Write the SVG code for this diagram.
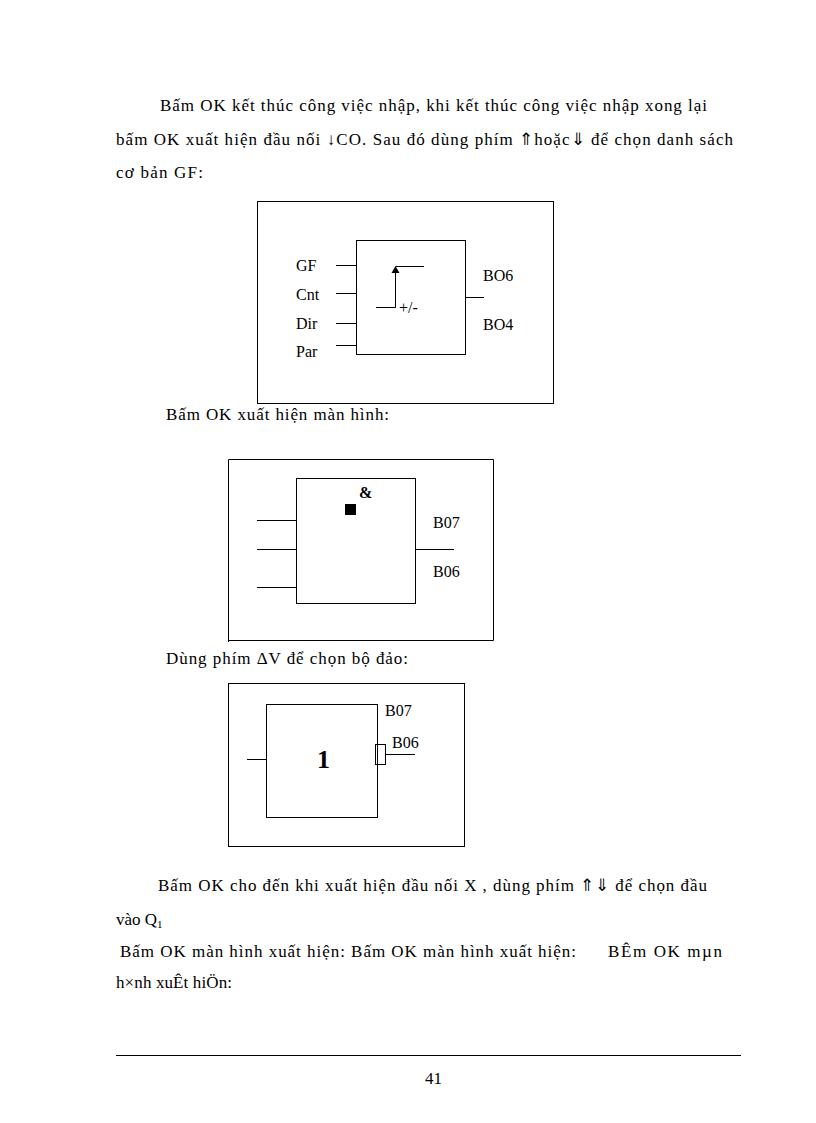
<svg xmlns="http://www.w3.org/2000/svg" width="816" height="1123" viewBox="0 0 816 1123">
<style>
.t{font-family:"Liberation Serif",serif;font-size:17px;fill:#000}
.s{font-family:"Liberation Serif",serif;font-size:16px;fill:#000}
.b{fill:none;stroke:#000;stroke-width:1}
</style>
<rect width="816" height="1123" fill="#fff"/>
<text class="t" x="160" y="111" textLength="547" lengthAdjust="spacing">Bấm OK kết thúc công việc nhập, khi kết thúc công việc nhập xong lại</text>
<text class="t" x="116" y="145" textLength="617" lengthAdjust="spacing">bấm OK xuất hiện đầu nối ↓CO. Sau đó dùng phím ⇑hoặc⇓ để chọn danh sách</text>
<text class="t" x="116" y="178" textLength="87" lengthAdjust="spacing">cơ bản GF:</text>
<g id="fig1">
<rect class="b" x="257.5" y="201.5" width="296" height="202"/>
<rect class="b" x="356.5" y="240.5" width="109" height="114"/>
<path class="b" d="M336 265.5H356M336 293.5H356M336 323.5H356M336 345.5H356M465 297.5H484M376 307.5H395.5V272M395.5 266.5H424"/>
<path d="M395.5 266L391.5 273H399.5Z"/>
<text class="s" x="296" y="271">GF</text>
<text class="s" x="296" y="300">Cnt</text>
<text class="s" x="296" y="329">Dir</text>
<text class="s" x="296" y="357">Par</text>
<text class="s" x="483" y="281">BO6</text>
<text class="s" x="483" y="330">BO4</text>
<text class="s" x="399" y="313">+/-</text>
</g>
<text class="t" x="166" y="420" textLength="223" lengthAdjust="spacing">Bấm OK xuất hiện màn hình:</text>
<g id="fig2">
<path class="b" d="M228.5 642V459.5H493.5V640.5H228.5"/>
<rect class="b" x="296.5" y="478.5" width="119" height="125"/>
<path class="b" d="M257 520.5H296M257 549.5H296M257 587.5H296M415 549.5H454"/>
<rect x="345" y="504" width="11" height="11"/>
<text class="s" x="359" y="498" font-weight="bold">&amp;</text>
<text class="s" x="433" y="528">B07</text>
<text class="s" x="433" y="577">B06</text>
</g>
<text class="t" x="166" y="664" textLength="242" lengthAdjust="spacing">Dùng phím ΔV để chọn bộ đảo:</text>
<g id="fig3">
<rect class="b" x="228.5" y="683.5" width="236" height="163"/>
<rect class="b" x="266.5" y="704.5" width="111" height="113"/>
<rect class="b" x="375.5" y="744.5" width="10" height="20"/>
<path class="b" d="M386 754.5H415M247 759.5H266"/>
<text x="317" y="768" font-family="Liberation Serif,serif" font-size="26" font-weight="bold">1</text>
<text class="s" x="385" y="716">B07</text>
<text class="s" x="392" y="748">B06</text>
</g>
<text class="t" x="158" y="891" textLength="549" lengthAdjust="spacing">Bấm OK cho đến khi xuất hiện đầu nối X , dùng phím ⇑⇓ để chọn đầu</text>
<text class="t" x="116" y="925">vào Q<tspan font-size="11" dy="3">1</tspan></text>
<text class="t" x="120" y="957" textLength="456" lengthAdjust="spacing">Bấm OK màn hình xuất hiện: Bấm OK màn hình xuất hiện:</text>
<text class="t" x="608" y="957" textLength="114" lengthAdjust="spacing">BÊm OK mµn</text>
<text class="t" x="116" y="988" textLength="116" lengthAdjust="spacing">h×nh xuÊt hiÖn:</text>
<path class="b" d="M116 1055.5H741"/>
<text class="t" x="425" y="1084">41</text>
</svg>
